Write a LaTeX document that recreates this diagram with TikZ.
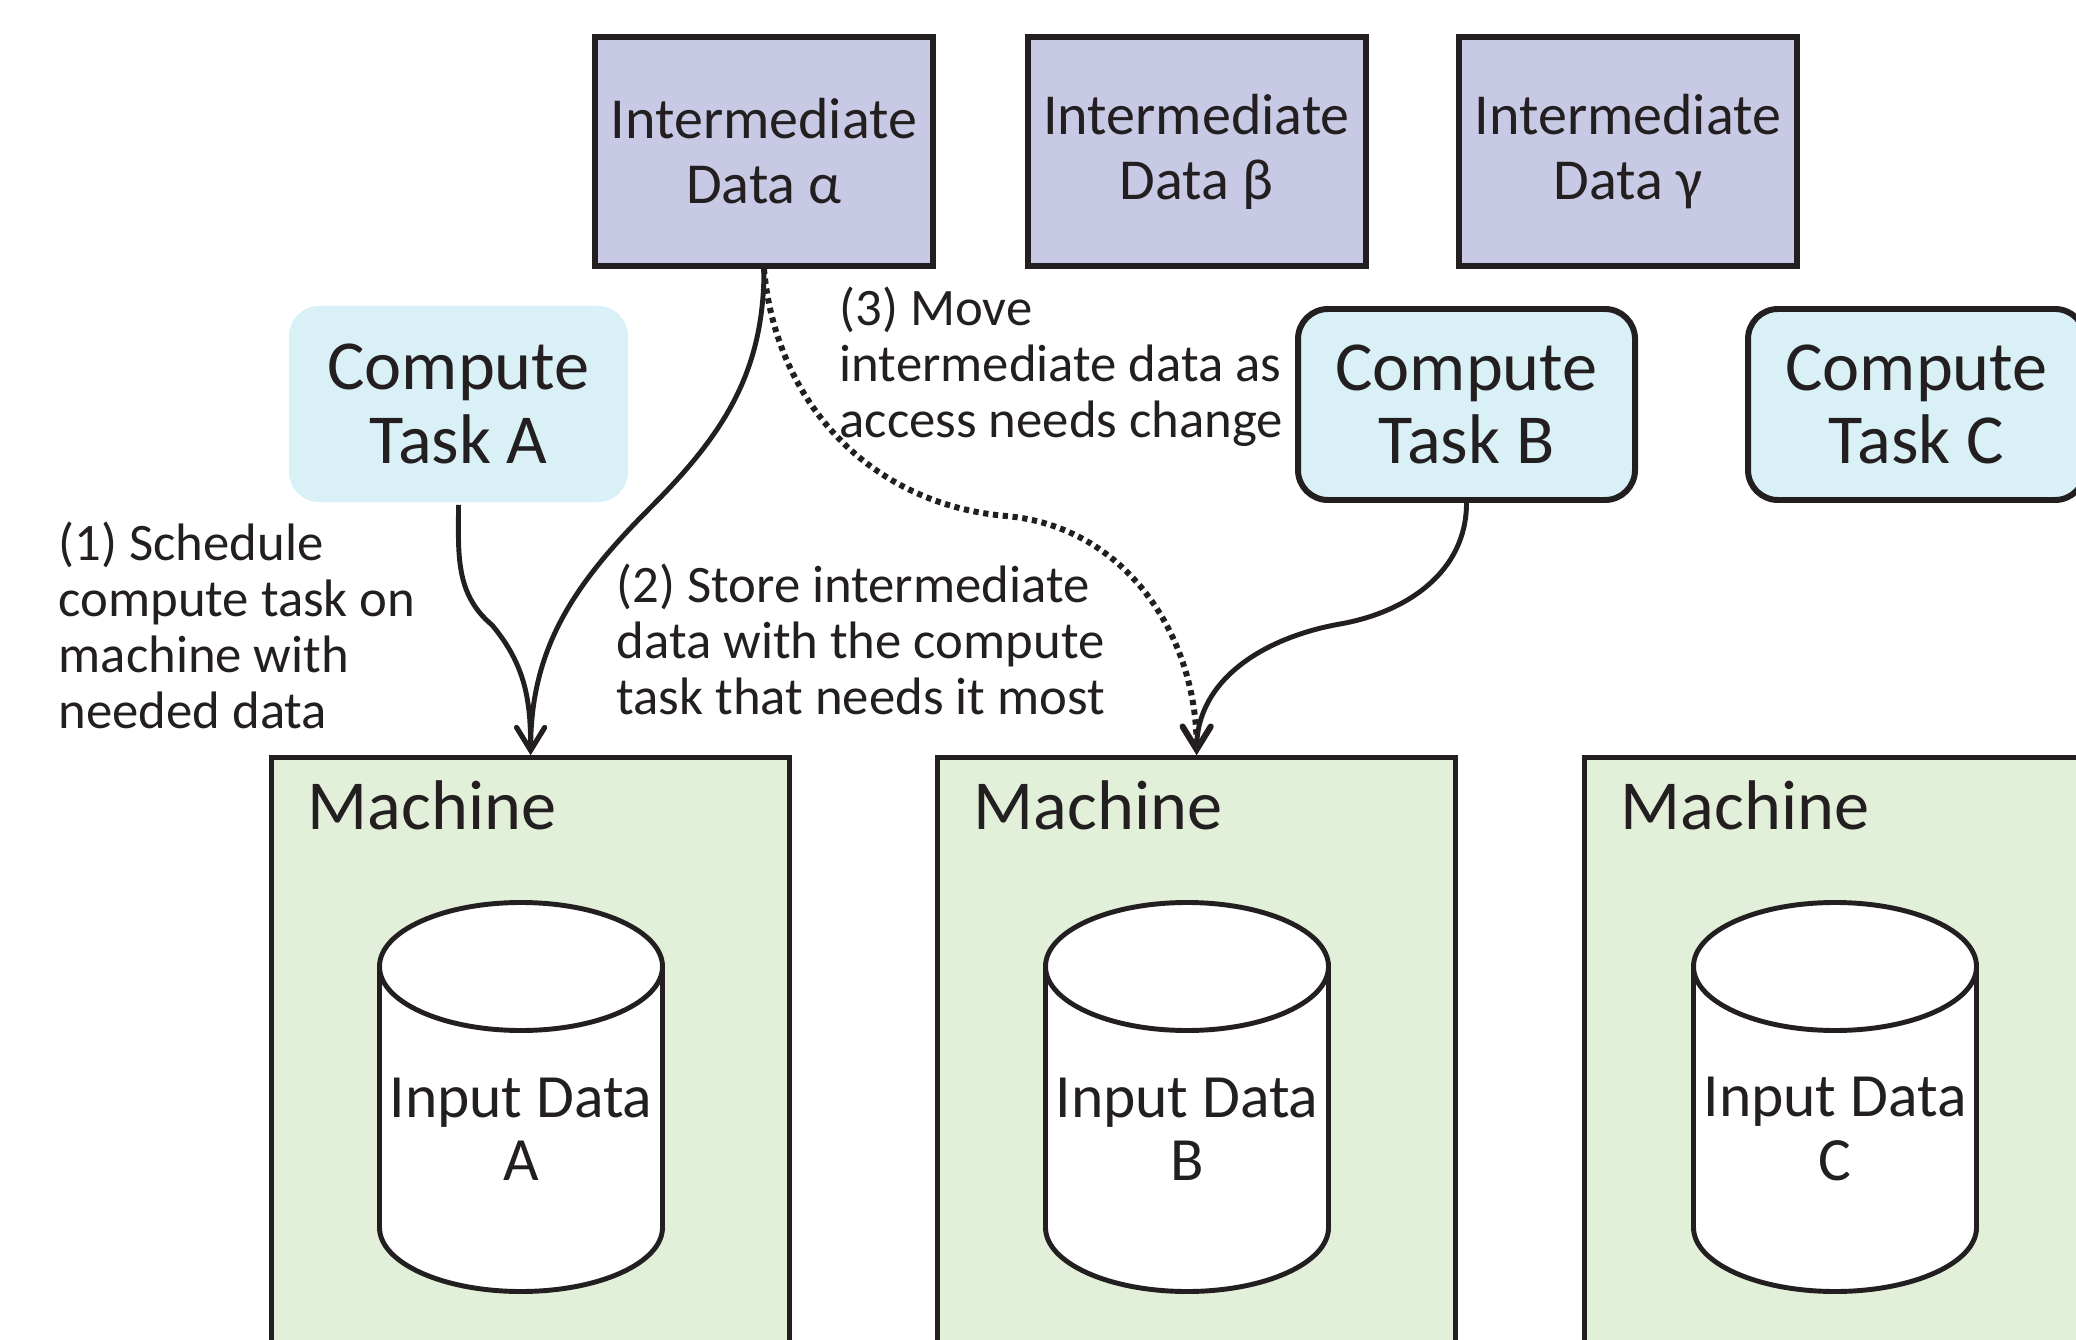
\documentclass[tikz,border=0pt]{standalone}
\usepackage{fontspec}
\setmainfont{Carlito}
\usepackage{tikz}
\usetikzlibrary{arrows.meta,positioning,calc}
\definecolor{interm}{RGB}{200,201,228}
\definecolor{taskblue}{RGB}{218,240,247}
\definecolor{machgreen}{RGB}{226,240,218}
\definecolor{ink}{RGB}{35,31,32}
\newcommand{\imfont}{\fontsize{16.5}{18.5}\selectfont}
\newcommand{\taskfont}{\fontsize{20}{21}\selectfont}
\newcommand{\machfont}{\fontsize{20}{21}\selectfont}
\newcommand{\infont}{\fontsize{17.5}{18}\selectfont}
\newcommand{\notefont}{\fontsize{15}{16}\selectfont}

\begin{document}
\begin{tikzpicture}[
    datbox/.style={draw=ink,line width=1.7pt,fill=interm,minimum width=3.38cm,minimum height=2.29cm,align=center,font=\imfont,text=ink},
    taskbox/.style={draw=ink,line width=1.7pt,fill=taskblue,rounded corners=0.3cm,minimum width=3.37cm,minimum height=1.91cm,align=center,font=\taskfont,text=ink},
    machbox/.style={draw=ink,line width=1.5pt,fill=machgreen,minimum width=5.18cm,minimum height=7cm,anchor=north west},
    note/.style={align=left,anchor=north west,inner sep=0pt,font=\notefont,text=ink},
    link/.style={ink,line width=1.4pt,-{Straight Barb[length=6.5pt,width=8pt,line cap=round]}}
  ]
  \useasboundingbox (0,0) rectangle (20.76,-13.40);
  \clip (0,0) rectangle (20.76,-13.40);

  % machines with their input data
  \foreach \n/\x/\cx/\lab in {a/2.69/5.21/A, b/9.35/11.87/B, c/15.82/18.35/C} {
    \node[machbox] (m\n) at (\x,-7.55) {};
    \node[anchor=base west,inner sep=0pt,font=\machfont,text=ink] (lm\n) at (\x+0.38,-8.29) {Machine};
    \draw[ink,line width=1.4pt,fill=white] (\cx-1.415,-9.665) -- (\cx-1.415,-12.275)
      arc[start angle=180,end angle=360,x radius=1.415,y radius=0.64] -- (\cx+1.415,-9.665);
    \draw[ink,line width=1.4pt,fill=white] (\cx,-9.665) ellipse[x radius=1.415,y radius=0.64];
    \node[font=\infont,align=center,text=ink] (d\n) at (\cx,-11.29) {Input Data\\\lab};
  }

  % intermediate data
  \node[datbox] (ia) at (7.64,-1.515) {Intermediate\\Data α};
  \node[datbox] (ib) at (11.965,-1.515) {Intermediate\\Data β};
  \node[datbox] (ig) at (16.28,-1.515) {Intermediate\\Data γ};

  % compute tasks
  \node[taskbox,draw=none,minimum width=3.39cm,minimum height=1.96cm] (ta) at (4.585,-4.04) {Compute\\Task A};
  \node[taskbox] (tb) at (14.665,-4.045) {Compute\\Task B};
  \node[taskbox] (tc) at (19.165,-4.045) {Compute\\Task C};

  % notes
  \node[note] (n1) at (0.58,-5.21) {(1) Schedule\\compute task on\\machine with\\needed data};
  \node[note] (n2) at (6.16,-5.63) {(2) Store intermediate\\data with the compute\\task that needs it most};
  \node[note] (n3) at (8.39,-2.86) {(3) Move\\intermediate data as\\access needs change};

  % connectors
  \coordinate (ka) at (4.92,-6.25);
  \coordinate (kb) at (6.50,-5.08);
  \coordinate (kc) at (10.06,-5.16);
  \coordinate (kd) at (13.40,-6.24);
  \draw[link] (ta.south) to[out=-90,in=140] (ka) to[out=-50,in=90] (ma.north);
  \draw[link] (ia.south) to[out=-90,in=45] (kb) to[out=225,in=90] (ma.north);
  \draw[link,line width=1.7pt,dash pattern=on 1.5pt off 1.3pt] (ia.south) to[out=-85,in=175] (kc) to[out=-5,in=90] (mb.north);
  \draw[link] (tb.south) to[out=-90,in=10] (kd) to[out=190,in=90] (mb.north);
\end{tikzpicture}
\end{document}
